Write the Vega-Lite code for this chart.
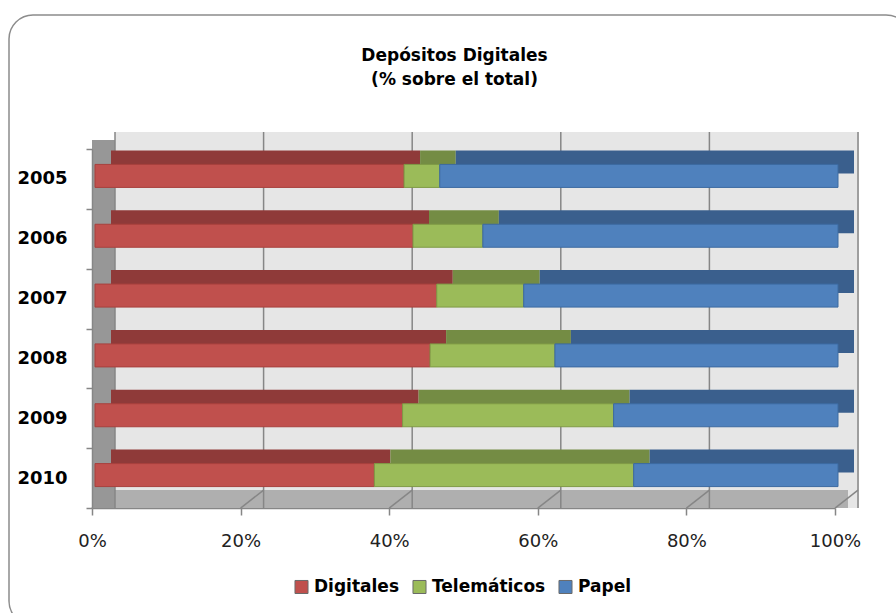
{
  "$schema": "https://vega.github.io/schema/vega-lite/v6.json",
  "autosize": {"type": "none"},
  "width": 743,
  "height": 359,
  "padding": {"left": 92, "top": 149, "right": 61, "bottom": 105},
  "background": "white",
  "title": {
    "text": ["Depósitos Digitales", "(% sobre el total)"],
    "font": "DejaVu Sans",
    "fontSize": 17,
    "fontWeight": "bold",
    "color": "#000000",
    "anchor": "middle",
    "frame": "group",
    "offset": -75,
    "dx": -9,
    "lineHeight": 24
  },
  "datasets": {
    "dep": [
      {"anio": "2005", "serie": "Digitales", "k": 1, "pct": 41.6},
      {"anio": "2005", "serie": "Telemáticos", "k": 2, "pct": 4.8},
      {"anio": "2005", "serie": "Papel", "k": 3, "pct": 53.6},
      {"anio": "2006", "serie": "Digitales", "k": 1, "pct": 42.8},
      {"anio": "2006", "serie": "Telemáticos", "k": 2, "pct": 9.4},
      {"anio": "2006", "serie": "Papel", "k": 3, "pct": 47.8},
      {"anio": "2007", "serie": "Digitales", "k": 1, "pct": 46.0},
      {"anio": "2007", "serie": "Telemáticos", "k": 2, "pct": 11.7},
      {"anio": "2007", "serie": "Papel", "k": 3, "pct": 42.3},
      {"anio": "2008", "serie": "Digitales", "k": 1, "pct": 45.1},
      {"anio": "2008", "serie": "Telemáticos", "k": 2, "pct": 16.8},
      {"anio": "2008", "serie": "Papel", "k": 3, "pct": 38.1},
      {"anio": "2009", "serie": "Digitales", "k": 1, "pct": 41.4},
      {"anio": "2009", "serie": "Telemáticos", "k": 2, "pct": 28.4},
      {"anio": "2009", "serie": "Papel", "k": 3, "pct": 30.2},
      {"anio": "2010", "serie": "Digitales", "k": 1, "pct": 37.6},
      {"anio": "2010", "serie": "Telemáticos", "k": 2, "pct": 34.9},
      {"anio": "2010", "serie": "Papel", "k": 3, "pct": 27.5}
    ],
    "grid": [{"v": 0}, {"v": 0.2}, {"v": 0.4}, {"v": 0.6}, {"v": 0.8}, {"v": 1}],
    "one": [{}]
  },
  "layer": [
    {
      "data": {"name": "one"},
      "mark": {"type": "rect", "fill": null, "fillOpacity": 0, "stroke": "#8c8c8c", "strokeWidth": 1.5, "cornerRadius": 24,
               "xOffset": -83, "x2Offset": 75, "yOffset": -164, "y2Offset": 147},
      "encoding": {
        "x": {"datum": 0, "type": "quantitative", "scale": {"domain": [0, 1], "nice": false},
              "axis": {"values": [0, 0.2, 0.4, 0.6, 0.8, 1], "format": "%", "labelFlush": false, "title": null}},
        "x2": {"datum": 1},
        "y": {"datum": "2005", "type": "nominal"},
        "y2": {"datum": "2010"}
      }
    },
    {
      "data": {"name": "one"},
      "mark": {"type": "rect", "fill": "#e6e6e6", "xOffset": 23, "x2Offset": 24, "yOffset": -17, "y2Offset": -18},
      "encoding": {
        "x": {"datum": 0, "type": "quantitative"},
        "x2": {"datum": 1}
      }
    },
    {
      "data": {"name": "one"},
      "mark": {"type": "rect", "fill": "#afafaf", "xOffset": 0, "x2Offset": 13, "yOffset": 341, "y2Offset": 1},
      "encoding": {
        "x": {"datum": 0, "type": "quantitative"},
        "x2": {"datum": 1}
      }
    },
    {
      "data": {"name": "grid"},
      "mark": {"type": "rule", "stroke": "#868686", "strokeWidth": 1.5, "yOffset": 30, "x2Offset": 23, "y2Offset": 12},
      "encoding": {
        "x": {"field": "v", "type": "quantitative"},
        "x2": {"field": "v"},
        "y": {"datum": "2010", "type": "nominal"},
        "y2": {"datum": "2010"}
      }
    },
    {
      "data": {"name": "one"},
      "mark": {"type": "rect", "fill": "#979797", "xOffset": 0, "x2Offset": 23, "yOffset": -9, "y2Offset": -9},
      "encoding": {
        "x": {"datum": 0, "type": "quantitative"},
        "x2": {"datum": 0}
      }
    },
    {
      "data": {"name": "grid"},
      "mark": {"type": "rule", "stroke": "#868686", "strokeWidth": 1.5, "xOffset": 23, "yOffset": -17, "y2Offset": -18},
      "encoding": {
        "x": {"field": "v", "type": "quantitative"}
      }
    },
    {
      "data": {"name": "dep"},
      "mark": {"type": "bar", "height": 23, "yOffset": -17, "xOffset": 19, "x2Offset": 19},
      "encoding": {
        "y": {"field": "anio", "type": "nominal", "scale": {"paddingInner": 0, "paddingOuter": 0}},
        "x": {"field": "pct", "type": "quantitative", "stack": "normalize"},
        "order": {"field": "k", "type": "quantitative"},
        "color": {
          "field": "serie", "type": "nominal",
          "scale": {"domain": ["Digitales", "Telemáticos", "Papel"], "range": ["#8f3a39", "#748c44", "#3a5f8d"]},
          "legend": null
        }
      }
    },
    {
      "data": {"name": "dep"},
      "mark": {"type": "bar", "height": 23, "yOffset": -3, "xOffset": 3, "x2Offset": 4, "strokeWidth": 1},
      "encoding": {
        "y": {"field": "anio", "type": "nominal", "title": null},
        "x": {"field": "pct", "type": "quantitative", "stack": "normalize", "title": null},
        "order": {"field": "k", "type": "quantitative"},
        "color": {
          "field": "serie", "type": "nominal",
          "scale": {"domain": ["Digitales", "Telemáticos", "Papel"], "range": ["#c0504d", "#9bbb59", "#4f81bd"]},
          "title": null,
          "legend": {
            "orient": "none", "direction": "horizontal", "legendX": 201, "legendY": 429,
            "symbolType": "M-1,-1H1V1H-1Z", "symbolSize": 170, "symbolStrokeWidth": 1, "symbolStrokeColor": "#6a6a6a",
            "labelFont": "DejaVu Sans", "labelFontSize": 17, "labelFontWeight": "bold", "labelColor": "#000000",
            "columnPadding": 10, "labelOffset": 4
          }
        },
        "stroke": {
          "field": "serie", "type": "nominal",
          "scale": {"domain": ["Digitales", "Telemáticos", "Papel"], "range": ["#a8403d", "#7f9a46", "#3c6aa0"]},
          "legend": null
        }
      }
    }
  ],
  "resolve": {"scale": {"color": "independent"}},
  "config": {
    "view": {"stroke": null},
    "axisX": {
      "grid": false, "labelFlush": false,
      "labelFont": "DejaVu Sans", "labelFontSize": 18, "labelColor": "#222222", "labelPadding": 17,
      "tickSize": 7, "tickColor": "#868686", "domainColor": "#868686", "domainWidth": 1.5, "tickWidth": 1.5
    },
    "axisY": {
      "labelFont": "DejaVu Sans", "labelFontSize": 18, "labelFontWeight": "bold", "labelColor": "#000000", "labelPadding": 19,
      "tickSize": 6, "tickColor": "#868686", "domainColor": "#868686", "domainWidth": 1.5, "tickWidth": 1.5,
      "tickBand": "extent", "grid": false
    }
  }
}
